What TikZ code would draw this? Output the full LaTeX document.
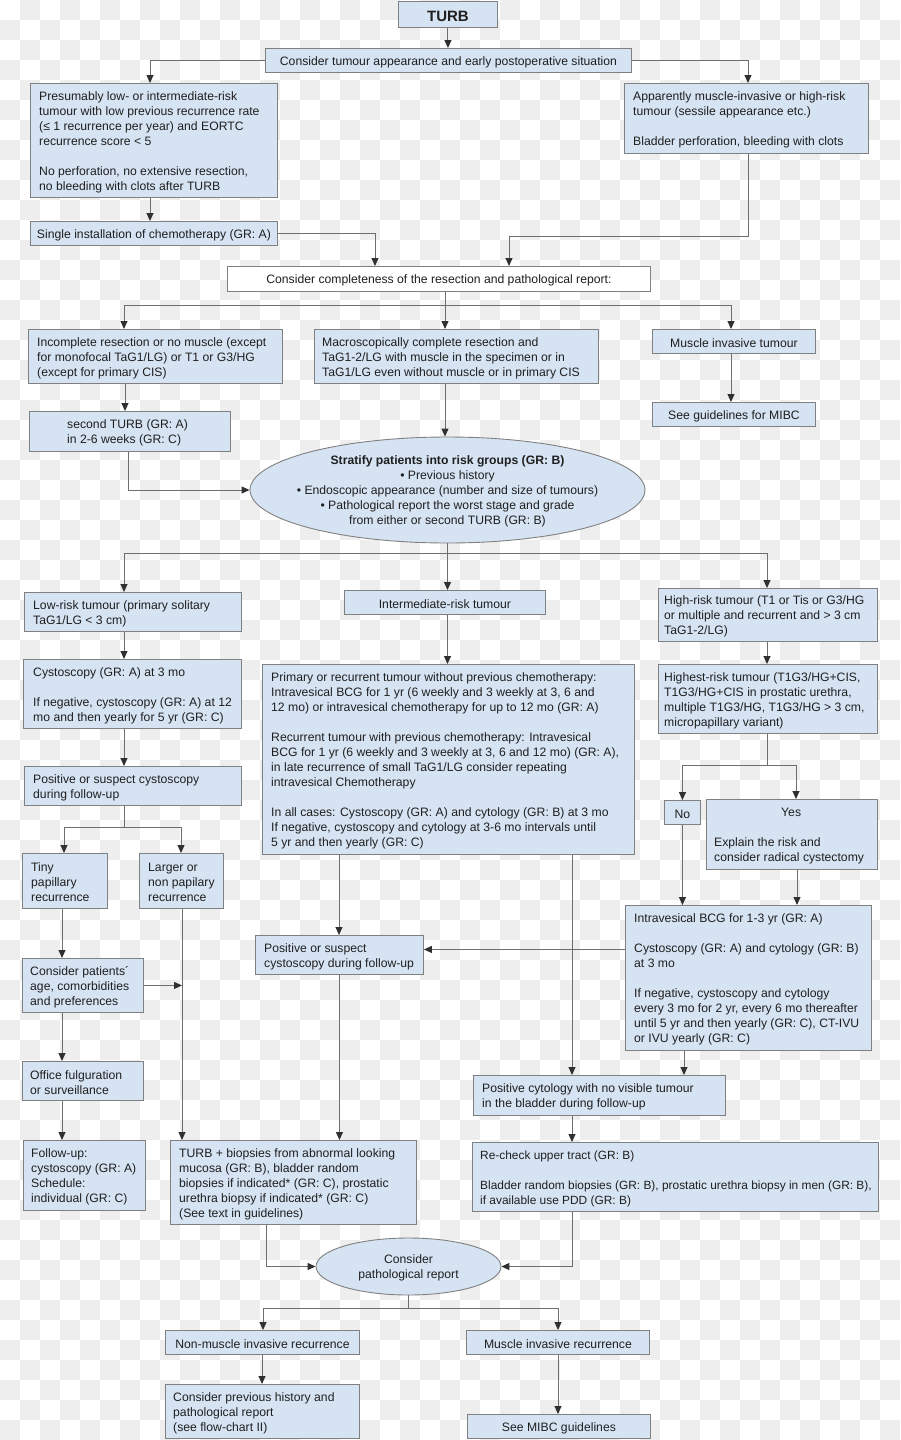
\documentclass[tikz,border=0pt]{standalone}
\usepackage{fontspec}
\setmainfont{Liberation Sans}
\usetikzlibrary{arrows.meta,shapes.geometric,calc}
\definecolor{boxblue}{HTML}{D6E3F3}
\definecolor{boxedge}{HTML}{808080}
\definecolor{linec}{HTML}{6E6E6E}
\definecolor{tipc}{HTML}{303030}
\definecolor{chk}{HTML}{EEEEEE}
\newcommand\fsz{\fontsize{12.2pt}{15pt}\selectfont}
\tikzset{
 bx/.style={draw=boxedge, fill=boxblue, line width=0.9pt, inner sep=0pt},
 wbx/.style={bx, fill=white},
 txt/.style={inner sep=0pt, font=\fsz, text=black!88, yshift=-1.5pt},
 ln/.style={draw=linec, line width=1pt},
 arr/.style={ln, -{Triangle[width=7pt,length=8pt,color=tipc]}},
}
\newcommand\mybox[6][bx]{%
 \pgfmathsetmacro\myW{#5-#3}\pgfmathsetmacro\myH{#6-#4}%
 \node[#1, minimum width=\myW pt, minimum height=\myH pt, anchor=north west] (#2) at (#3,#4) {};}
\begin{document}
\begin{tikzpicture}[x=1pt,y=-1pt]
\useasboundingbox (0,0) rectangle (900,1440);
\fill[white] (0,0) rectangle (900,1440);
\foreach \i in {0,...,44}{\foreach \j in {0,...,71}{\ifodd\numexpr\i+\j\relax\fill[chk] (\i*20,\j*20) rectangle ++(20,20);\fi}}

% ---------- boxes ----------
\mybox{turb}{398}{1}{497}{27}
\node[txt, font=\fontsize{15pt}{18pt}\selectfont\bfseries] at (turb.center) {TURB};

\mybox{c1}{265}{48}{631}{72}
\node[txt] at (c1.center) {Consider tumour appearance and early postoperative situation};

\mybox{b3}{30}{83}{277}{197}
\node[txt, align=left, anchor=west] at ([xshift=9pt]b3.west) {Presumably low- or intermediate-risk\\tumour with low previous recurrence rate\\(≤ 1 recurrence per year) and EORTC\\recurrence score < 5\\[15pt]No perforation, no extensive resection,\\no bleeding with clots after TURB};

\mybox{b4}{624}{83}{868}{153}
\node[txt, align=left, anchor=west] at ([xshift=9pt]b4.west) {Apparently muscle-invasive or high-risk\\tumour (sessile appearance etc.)\\[15pt]Bladder perforation, bleeding with clots};

\mybox{b5}{30}{221}{277}{245}
\node[txt] at (b5.center) {Single installation of chemotherapy (GR: A)};

\mybox[wbx]{c2}{227}{266}{650}{291}
\node[txt] at (c2.center) {Consider completeness of the resection and pathological report:};

\mybox{b7}{28}{329}{282}{383}
\node[txt, align=left, anchor=west] at ([xshift=9pt]b7.west) {Incomplete resection or no muscle (except\\for monofocal TaG1/LG) or T1 or G3/HG\\(except for primary CIS)};

\mybox{b8}{314}{329}{598}{383}
\node[txt, align=left, anchor=west] at ([xshift=8pt]b8.west) {Macroscopically complete resection and\\TaG1-2/LG with muscle in the specimen or in\\TaG1/LG even without muscle or in primary CIS};

\mybox{b9}{652}{329}{815}{353}
\node[txt] at (b9.center) {Muscle invasive tumour};

\mybox{b10}{652}{402}{815}{426}
\node[txt] at (b10.center) {See guidelines for MIBC};

\mybox{b11}{29}{411}{230}{451}
\node[txt, align=left, anchor=west] at ([xshift=38pt]b11.west) {second TURB (GR: A)\\in 2-6 weeks (GR: C)};

\node[bx, ellipse, minimum width=395pt, minimum height=106pt] (E1) at (447.5,490) {};
\node[txt, align=center] at (E1.center) {\textbf{Stratify patients into risk groups (GR: B)}\\• Previous history\\• Endoscopic appearance (number and size of tumours)\\• Pathological report the worst stage and grade\\from either or second TURB (GR: B)};

\mybox{b13}{24}{592}{241}{631}
\node[txt, align=left, anchor=west] at ([xshift=9pt]b13.west) {Low-risk tumour (primary solitary\\TaG1/LG < 3 cm)};

\mybox{b14}{344}{590}{545}{614}
\node[txt] at (b14.center) {Intermediate-risk tumour};

\mybox{b15}{658}{588}{877}{641}
\node[txt, align=left, anchor=west] at ([xshift=6pt]b15.west) {High-risk tumour (T1 or Tis or G3/HG\\or multiple and recurrent and > 3 cm\\TaG1-2/LG)};

\mybox{b16}{23}{659}{241}{728}
\node[txt, align=left, anchor=west] at ([xshift=10pt]b16.west) {Cystoscopy (GR: A) at 3 mo\\[15pt]If negative, cystoscopy (GR: A) at 12\\mo and then yearly for 5 yr (GR: C)};

\mybox{b17}{262}{664}{634}{854}
\node[txt, align=left, anchor=west] at ([xshift=9pt]b17.west) {Primary or recurrent tumour without previous chemotherapy:\\Intravesical BCG for 1 yr (6 weekly and 3 weekly at 3, 6 and\\12 mo) or intravesical chemotherapy for up to 12 mo (GR: A)\\[15pt]Recurrent tumour with previous chemotherapy: Intravesical\\BCG for 1 yr (6 weekly and 3 weekly at 3, 6 and 12 mo) (GR: A),\\in late recurrence of small TaG1/LG consider repeating\\intravesical Chemotherapy\\[15pt]In all cases: Cystoscopy (GR: A) and cytology (GR: B) at 3 mo\\If negative, cystoscopy and cytology at 3-6 mo intervals until\\5 yr and then yearly (GR: C)};

\mybox{b18}{658}{664}{877}{733}
\node[txt, align=left, anchor=west] at ([xshift=6pt]b18.west) {Highest-risk tumour (T1G3/HG+CIS,\\T1G3/HG+CIS in prostatic urethra,\\multiple T1G3/HG, T1G3/HG > 3 cm,\\micropapillary variant)};

\mybox{b19}{24}{766}{241}{805}
\node[txt, align=left, anchor=west] at ([xshift=9pt]b19.west) {Positive or suspect cystoscopy\\during follow-up};

\mybox{b20}{664}{800}{700}{824}
\node[txt] at (b20.center) {No};

\mybox{b21}{706}{799}{877}{869}
\node[txt, align=left, anchor=west] at ([xshift=8pt]b21.west) {\hspace*{67pt}Yes\\[15pt]Explain the risk and\\consider radical cystectomy};

\mybox{b22}{22}{853}{107}{908}
\node[txt, align=left, anchor=west] at ([xshift=9pt]b22.west) {Tiny\\papillary\\recurrence};

\mybox{b23}{139}{853}{223}{908}
\node[txt, align=left, anchor=west] at ([xshift=9pt]b23.west) {Larger or\\non papilary\\recurrence};

\mybox{b24}{625}{905}{871}{1050}
\node[txt, align=left, anchor=west] at ([xshift=9pt]b24.west) {Intravesical BCG for 1-3 yr (GR: A)\\[15pt]Cystoscopy (GR: A) and cytology (GR: B)\\at 3 mo\\[15pt]If negative, cystoscopy and cytology\\every 3 mo for 2 yr, every 6 mo thereafter\\until 5 yr and then yearly (GR: C), CT-IVU\\or IVU yearly (GR: C)};

\mybox{b25}{255}{935}{423}{974}
\node[txt, align=left, anchor=west] at ([xshift=9pt]b25.west) {Positive or suspect\\cystoscopy during follow-up};

\mybox{b26}{22}{958}{143}{1012}
\node[txt, align=left, anchor=west] at ([xshift=8pt]b26.west) {Consider patients´\\age, comorbidities\\and preferences};

\mybox{b27}{22}{1061}{143}{1100}
\node[txt, align=left, anchor=west] at ([xshift=8pt]b27.west) {Office fulguration\\or surveillance};

\mybox{b28}{473}{1075}{725}{1115}
\node[txt, align=left, anchor=west] at ([xshift=9pt]b28.west) {Positive cytology with no visible tumour\\in the bladder during follow-up};

\mybox{b29}{23}{1140}{145}{1210}
\node[txt, align=left, anchor=west] at ([xshift=8pt]b29.west) {Follow-up:\\cystoscopy (GR: A)\\Schedule:\\individual (GR: C)};

\mybox{b30}{170}{1140}{416}{1224}
\node[txt, align=left, anchor=west] at ([xshift=9pt]b30.west) {TURB + biopsies from abnormal looking\\mucosa (GR: B), bladder random\\biopsies if indicated* (GR: C), prostatic\\urethra biopsy if indicated* (GR: C)\\(See text in guidelines)};

\mybox{b31}{472}{1142}{878}{1211}
\node[txt, align=left, anchor=west, font=\fontsize{11.9pt}{15pt}\selectfont] at ([xshift=8pt]b31.west) {Re-check upper tract (GR: B)\\[15pt]Bladder random biopsies (GR: B), prostatic urethra biopsy in men (GR: B),\\if available use PDD (GR: B)};

\node[bx, ellipse, minimum width=185pt, minimum height=57pt] (E2) at (408.5,1266.5) {};
\node[txt, align=center] at (E2.center) {Consider\\pathological report};

\mybox{b33}{165}{1330}{359}{1354}
\node[txt] at (b33.center) {Non-muscle invasive recurrence};

\mybox{b34}{466}{1330}{649}{1354}
\node[txt] at (b34.center) {Muscle invasive recurrence};

\mybox{b35}{165}{1384}{359}{1438}
\node[txt, align=left, anchor=west] at ([xshift=8pt]b35.west) {Consider previous history and\\pathological report\\(see flow-chart II)};

\mybox{b36}{467}{1414}{650}{1438}
\node[txt] at (b36.center) {See MIBC guidelines};

% ---------- connectors ----------
\draw[arr] (turb.south) -- (c1.north -| turb.south);
\draw[arr] (c1.west) -| ([xshift=120pt]b3.north west);
\draw[arr] (c1.east) -| ([xshift=124pt]b4.north west);
\draw[arr] ([xshift=120pt]b3.south west) -- ([xshift=120pt]b5.north west);
\draw[arr] (b5.east) -| ([xshift=148pt]c2.north west);
\draw[arr] ([xshift=124pt]b4.south west) -- ++(0,83) -| ([xshift=282pt]c2.north west);

\coordinate (j1) at ([xshift=218pt,yshift=-14pt]c2.south west);
\draw[arr] ([xshift=218pt]c2.south west) -- ([xshift=131pt]b8.north west);
\draw[arr] (j1) -| ([xshift=96pt]b7.north west);
\draw[arr] (j1) -| ([xshift=79pt]b9.north west);
\draw[arr] ([xshift=79pt]b9.south west) -- ([xshift=79pt]b10.north west);
\draw[arr] ([xshift=97pt]b7.south west) -- ([xshift=96pt]b11.north west);
\draw[arr] ([xshift=99pt]b11.south west) |- (E1.west);
\draw[arr] ([xshift=131pt]b8.south west) -- (E1.north -| j1);

\coordinate (j2) at ([yshift=-10pt]E1.south);
\draw[ln] (E1.south) -- (j2);
\draw[arr] (j2) -| ([xshift=100pt]b13.north west);
\draw[arr] (j2) -| ([xshift=109pt]b15.north west);
\draw[arr] (j2) -- (j2 |- b14.north);
\draw[arr] ([xshift=100pt]b13.south west) -- ([xshift=101pt]b16.north west);
\draw[arr] (b14.south -| j2) -- (b17.north -| j2);
\draw[arr] ([xshift=109pt]b15.south west) -- ([xshift=109pt]b18.north west);
\draw[arr] ([xshift=101pt]b16.south west) -- ([xshift=100pt]b19.north west);

\coordinate (j3) at ([xshift=100pt,yshift=-22pt]b19.south west);
\draw[ln] ([xshift=100pt]b19.south west) -- (j3);
\draw[arr] (j3) -| ([xshift=42pt]b22.north west);
\draw[arr] (j3) -| ([xshift=42pt]b23.north west);

\coordinate (j4) at ([xshift=109pt,yshift=-32pt]b18.south west);
\draw[ln] ([xshift=109pt]b18.south west) -- (j4);
\draw[arr] (j4) -| (b20.north);
\draw[arr] (j4) -| ([xshift=90pt]b21.north west);
\draw[arr] (b20.south) -- (b20.south |- b24.north);
\draw[arr] ([xshift=91pt]b21.south west) -- ([xshift=172pt]b24.north west);

\draw[arr] ([xshift=77pt]b17.south west) -- ([xshift=84pt]b25.north west);
\draw[arr] ([xshift=310pt]b17.south west) -- ([xshift=99pt]b28.north west);
\draw[arr] ([yshift=28.5pt]b24.west) -- ([yshift=5.5pt]b25.east);
\draw[arr] ([xshift=59pt]b24.south west) -- ([xshift=211pt]b28.north west);

\draw[arr] ([xshift=40pt]b22.south west) -- ([xshift=40pt]b26.north west);
\coordinate (v23) at ([xshift=43pt]b23.south west);
\draw[arr] (b26.east) -- (b26.east -| v23);
\draw[arr] (v23) -- (v23 |- b30.north);
\draw[arr] ([xshift=40pt]b26.south west) -- ([xshift=40pt]b27.north west);
\draw[arr] ([xshift=40pt]b27.south west) -- ([xshift=39pt]b29.north west);
\draw[arr] (b25.south) -- (b25.south |- b30.north);
\draw[arr] ([xshift=99pt]b28.south west) -- ([xshift=100pt]b31.north west);

\draw[arr] ([xshift=96pt]b30.south west) |- (E2.west);
\draw[arr] ([xshift=100pt]b31.south west) |- (E2.east);
\coordinate (j5) at ([yshift=-13pt]E2.south);
\draw[ln] (E2.south) -- (j5);
\draw[arr] (j5) -| ([xshift=98pt]b33.north west);
\draw[arr] (j5) -| ([xshift=92pt]b34.north west);
\draw[arr] ([xshift=97pt]b33.south west) -- ([xshift=97pt]b35.north west);
\draw[arr] ([xshift=92pt]b34.south west) -- ([xshift=91pt]b36.north west);
\end{tikzpicture}
\end{document}
